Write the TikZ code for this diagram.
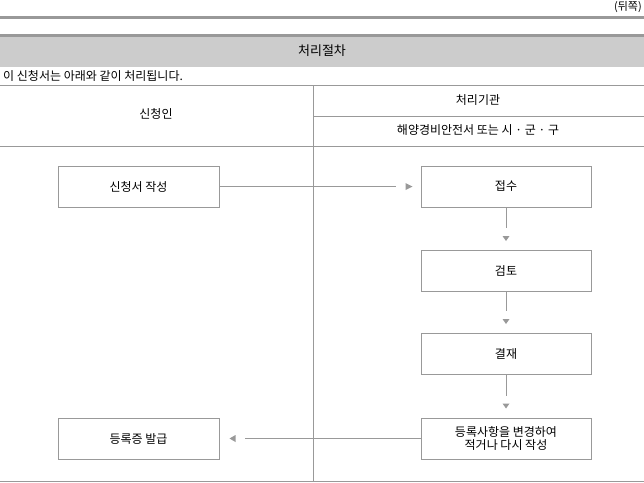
\documentclass[tikz,border=0pt]{standalone}
\usepackage{fontspec}
\setmainfont{Noto Sans CJK KR}
\usetikzlibrary{calc}
\definecolor{rule}{HTML}{999999}
\definecolor{head}{HTML}{CCCCCC}
\tikzset{
  stepbox/.style={draw=rule, line width=1pt, minimum height=41pt, inner sep=0pt, align=center, font=\fontsize{12}{13}\selectfont},
  lbox/.style={stepbox, minimum width=161pt},
  rbox/.style={stepbox, minimum width=170pt},
  conn/.style={draw=rule, line width=1pt},
  tipc/.style={fill=rule},
  txt/.style={font=\fontsize{12}{14}\selectfont, inner sep=0pt},
}
\begin{document}
\begin{tikzpicture}[x=1pt,y=-1pt]
\useasboundingbox (0,0) rectangle (644,482);
% top rules
\fill[rule] (0,15.5) rectangle (644,18.5);
\fill[rule] (0,33.5) rectangle (644,36.5);
\fill[head] (0,36.5) rectangle (644,66.5);
\node[txt, font=\fontsize{11}{12}\selectfont] (back) [anchor=north east] at (642,1) {(뒤쪽)};
\node[txt, font=\fontsize{13}{15}\selectfont] (title) at (322,51) {처리절차};
\node[txt] (note) [anchor=west] at (3,75.5) {이 신청서는 아래와 같이 처리됩니다.};
% table lines
\draw[conn] (0,85) -- (644,85);
\draw[conn] (313,116) -- (644,116);
\draw[conn] (0,146) -- (644,146);
\draw[conn] (0,481) -- (644,481);
\draw[conn] (313,85) -- (313,481);
\node[txt] (applicant) at (156,114) {신청인};
\node[txt] (agency) at (478,100) {처리기관};
\node[txt] (office) at (478,130.5) {해양경비안전서 또는 시 · 군 · 구};
% boxes
\node[lbox] (write) at (138.5,186.5) {신청서 작성};
\node[rbox] (receive) at (506,186.5) {접수};
\node[rbox] (review) at (506,271) {검토};
\node[rbox] (approve) at (506,354) {결재};
\node[rbox] (change) at (506,438.5) {등록사항을 변경하여\\적거나 다시 작성};
\node[lbox] (issue) at (138.5,438.5) {등록증 발급};
% connectors
\draw[conn, shorten >=25pt] (write.east) -- (write.east -| receive.west);
\fill[tipc] ($(write.east -| receive.west)+(-8,0)$) -- +(-7,-3.5) -- +(-7,3.5) -- cycle;
\draw[conn, shorten >=22pt] (receive.south) -- (review.north);
\fill[tipc] ($(review.north)+(0,-9)$) -- +(-3.5,-5) -- +(3.5,-5) -- cycle;
\draw[conn, shorten >=22pt] (review.south) -- (approve.north);
\fill[tipc] ($(approve.north)+(0,-9)$) -- +(-3.5,-5) -- +(3.5,-5) -- cycle;
\draw[conn, shorten >=22pt] (approve.south) -- (change.north);
\fill[tipc] ($(change.north)+(0,-9)$) -- +(-3.5,-5) -- +(3.5,-5) -- cycle;
\draw[conn, shorten >=25pt] (change.west) -- (change.west -| issue.east);
\fill[tipc] ($(change.west -| issue.east)+(10,0)$) -- +(6,-3.5) -- +(6,3.5) -- cycle;
\end{tikzpicture}
\end{document}
